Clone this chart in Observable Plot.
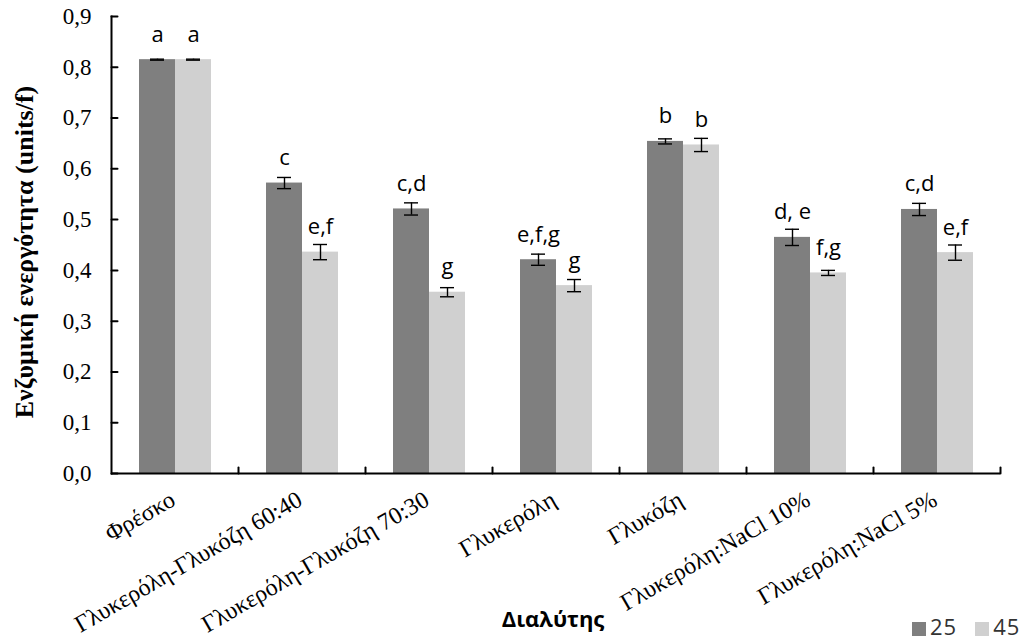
<!DOCTYPE html>
<html><head><meta charset="utf-8">
<script src="https://cdn.jsdelivr.net/npm/d3@7"></script>
<script src="https://cdn.jsdelivr.net/npm/@observablehq/plot@0.6"></script>
<style>
body{margin:0;background:#fff;}
#wrap{position:relative;width:1027px;height:640px;overflow:hidden;}
#ytitle{position:absolute;left:25px;top:252px;transform:translate(-50%,-50%) rotate(-90deg);white-space:nowrap;font-family:"Liberation Serif",serif;font-weight:bold;font-size:26px;color:#000;}
#xtitle{position:absolute;left:553px;top:618px;transform:translate(-50%,-50%);white-space:nowrap;font-family:"Open Sans",sans-serif;font-weight:bold;font-size:22px;color:#000;}
#legend{position:absolute;left:912px;top:612px;white-space:nowrap;font-family:"Open Sans",sans-serif;font-size:22px;letter-spacing:1px;color:#333;line-height:28px;}
#legend span.sw{display:inline-block;width:14px;height:14px;vertical-align:-1px;margin-right:4px;}
#legend span.it{margin-right:18px;}
</style></head><body><div id="wrap"></div>
<script>
const categories = ["Φρέσκο","Γλυκερόλη-Γλυκόζη 60:40","Γλυκερόλη-Γλυκόζη 70:30","Γλυκερόλη","Γλυκόζη","Γλυκερόλη:NaCl 10%","Γλυκερόλη:NaCl 5%"];
const temps = ["25","45"];
const values25 = [0.815,0.572,0.521,0.421,0.654,0.465,0.520];
const values45 = [0.815,0.436,0.357,0.370,0.647,0.395,0.435];
const err25 = [0.001,0.011,0.012,0.011,0.005,0.016,0.012];
const err45 = [0.001,0.015,0.009,0.012,0.013,0.005,0.015];
const letters25 = ["a","c","c,d","e,f,g","b","d, e","c,d"];
const letters45 = ["a","e,f","g","g","b","f,g","e,f"];
const yTicks = [0,0.1,0.2,0.3,0.4,0.5,0.6,0.7,0.8,0.9];
const colors = ["#7f7f7f","#d0d0d0"];
const yTitle = "Ενζυμική ενεργότητα (units/f)";
const xTitle = "Διαλύτης";

const rows = [];
categories.forEach((c,i)=>{
  rows.push({cat:c,temp:"25",value:values25[i],err:err25[i],letter:letters25[i]});
  rows.push({cat:c,temp:"45",value:values45[i],err:err45[i],letter:letters45[i]});
});

const tickShape = {draw(ctx, l){ ctx.moveTo(0,0); ctx.lineTo(0,-l); }};
const fmt = d => d3.format(".1f")(d).replace(".", ",");

const chart = Plot.plot({
  width: 1027, height: 640,
  marginTop: 16, marginBottom: 167, marginLeft: 108, marginRight: 24,
  style: {background: "transparent", overflow: "visible"},
  fx: {domain: categories, padding: 0, axis: null},
  x: {domain: temps, paddingInner: 0, paddingOuter: 0.75, axis: null},
  y: {domain: [0, 0.9], axis: null},
  color: {domain: temps, range: colors},
  marks: [
    Plot.barY(rows, {fx: "cat", x: "temp", y: "value", fill: "temp"}),
    Plot.ruleX(rows, {fx: "cat", x: "temp", y1: d => d.value - d.err, y2: d => d.value + d.err, stroke: "#000", strokeWidth: 1.4}),
    Plot.tickY(rows, {fx: "cat", x: "temp", y: d => d.value - d.err, stroke: "#000", strokeWidth: 1.4, insetLeft: 11, insetRight: 11}),
    Plot.tickY(rows, {fx: "cat", x: "temp", y: d => d.value + d.err, stroke: "#000", strokeWidth: 1.4, insetLeft: 11, insetRight: 11}),
    Plot.text(rows, {fx: "cat", x: "temp", y: "value", text: "letter", dy: -18, lineAnchor: "bottom", fontSize: 22, fontFamily: "Open Sans", fill: "#000"}),
    Plot.ruleY([0], {stroke: "#000", strokeWidth: 2}),
    Plot.frame({anchor: "left", facetAnchor: "left", stroke: "#000", strokeWidth: 2}),
    Plot.vector(yTicks, {y: d => d, frameAnchor: "left", rotate: 90, length: 6, anchor: "start", shape: tickShape, stroke: "#000", strokeWidth: 2, facetAnchor: "left"}),
    Plot.vector([0], {frameAnchor: "bottom-right", rotate: 0, length: 6, anchor: "start", shape: tickShape, stroke: "#000", strokeWidth: 2}),
    Plot.axisY(yTicks, {anchor: "left", tickSize: 0, tickPadding: 20, tickFormat: fmt, fontSize: 23, fontFamily: "Liberation Serif", fill: "#000", label: null}),
    Plot.axisFx({anchor: "bottom", tickRotate: -30, tickSize: 0, tickPadding: 24, dx: -2, fontSize: 24, fontFamily: "Liberation Serif", fill: "#000", label: null})
  ]
});
const wrap = document.getElementById("wrap");
wrap.appendChild(chart);

const yt = document.createElement("div"); yt.id = "ytitle"; yt.textContent = yTitle; wrap.appendChild(yt);
const xt = document.createElement("div"); xt.id = "xtitle"; xt.textContent = xTitle; wrap.appendChild(xt);

const lg = document.createElement("div"); lg.id = "legend";
temps.forEach((t,i)=>{
  const sw = document.createElement("span"); sw.className = "sw"; sw.style.background = colors[i]; lg.appendChild(sw);
  const tx = document.createElement("span"); tx.className = "it"; tx.textContent = t; lg.appendChild(tx);
});
wrap.appendChild(lg);
</script>
</body></html>
